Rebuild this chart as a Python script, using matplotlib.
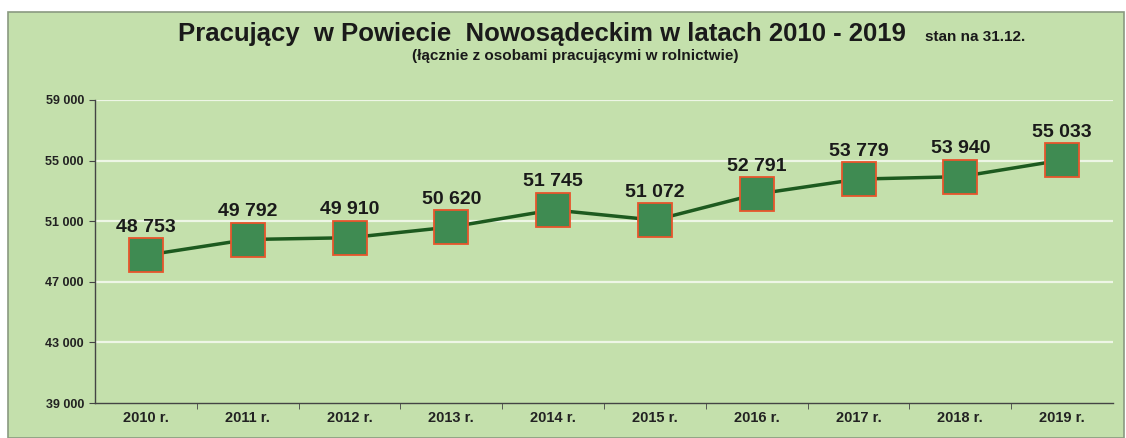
import matplotlib
matplotlib.use("Agg")
import matplotlib.pyplot as plt
from matplotlib.patches import Rectangle

years = ["2010 r.", "2011 r.", "2012 r.", "2013 r.", "2014 r.", "2015 r.", "2016 r.", "2017 r.", "2018 r.", "2019 r."]
values = [48753, 49792, 49910, 50620, 51745, 51072, 52791, 53779, 53940, 55033]
value_labels = ["48 753", "49 792", "49 910", "50 620", "51 745", "51 072", "52 791", "53 779", "53 940", "55 033"]
yticks = [39000, 43000, 47000, 51000, 55000, 59000]
ytick_labels = ["39 000", "43 000", "47 000", "51 000", "55 000", "59 000"]

plt.rcParams['font.family'] = ['Liberation Sans', 'DejaVu Sans']

W, H = 1126, 438
fig = plt.figure(figsize=(W / 100, H / 100), dpi=100)
fig.patch.set_facecolor("white")

panel_color = "#c4e0ac"
panel = Rectangle((8 / W, 0), (1124 - 8) / W, (438 - 12) / H, transform=fig.transFigure,
                  facecolor=panel_color, edgecolor="#8a9a80", linewidth=1.2, zorder=-10)
fig.add_artist(panel)

ax = fig.add_axes([95 / W, (H - 403) / H, (1113 - 95) / W, (403 - 100) / H])
ax.set_facecolor("none")
ax.set_zorder(5)

x = list(range(len(years)))
ax.set_xlim(-0.5, len(years) - 0.5)
ax.set_ylim(39000, 59000)

for yt in yticks[1:]:
    ax.axhline(yt, color="#eef6e6", linewidth=1.6, zorder=1)

ax.plot(x, values, color="#1d5a1f", linewidth=2.5, zorder=2,
        marker="s", markersize=24, markerfacecolor="#3f8b52", markeredgecolor="#e8552c",
        markeredgewidth=1.3)

for xi, v, lab in zip(x, values, value_labels):
    ax.annotate(lab, (xi, v), xytext=(0, 14), textcoords="offset points",
                ha="center", va="bottom", fontsize=14, fontweight="bold", color="#1a1a1a", zorder=3)

ax.set_yticks(yticks)
ax.set_yticklabels(ytick_labels, fontsize=9, fontweight="bold", color="#222222")
ax.set_xticks(x)
ax.set_xticklabels(years, fontsize=10.5, fontweight="bold", color="#222222")
ax.set_xticks([i + 0.5 for i in x[:-1]], minor=True)
ax.tick_params(axis="x", which="major", length=0, pad=6)
ax.tick_params(axis="x", which="minor", length=4, color="#444444")
ax.tick_params(axis="y", length=4, color="#444444", pad=4)

for s in ["top", "right"]:
    ax.spines[s].set_visible(False)
ax.spines["left"].set_color("#444444")
ax.spines["bottom"].set_color("#444444")
ax.spines["left"].set_linewidth(1.0)
ax.spines["bottom"].set_linewidth(1.0)

fig.text(178 / W, 1 - 41 / H, "Pracujący  w Powiecie  Nowosądeckim w latach 2010 - 2019",
         fontsize=18.5, fontweight="bold", color="#1a1a1a", ha="left", va="baseline")
fig.text(925 / W, 1 - 41 / H, "stan na 31.12.", fontsize=11, fontweight="bold",
         color="#1a1a1a", ha="left", va="baseline")
fig.text(575 / W, 1 - 60 / H, "(łącznie z osobami pracującymi w rolnictwie)", fontsize=11,
         fontweight="bold", color="#1a1a1a", ha="center", va="baseline")

fig.savefig("out.png", dpi=100, facecolor=fig.get_facecolor())
